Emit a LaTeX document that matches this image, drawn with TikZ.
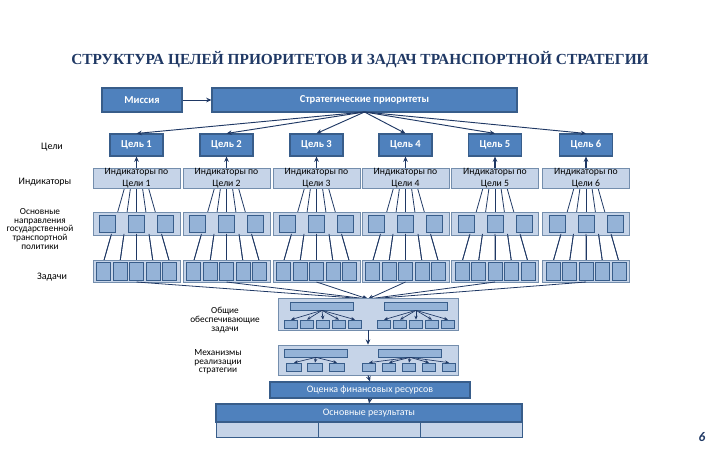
\documentclass[tikz,border=0pt]{standalone}
\usepackage{fontspec}
\setmainfont{Carlito}
\newfontfamily\titlefont{Liberation Serif}
\usetikzlibrary{arrows.meta,calc}
\definecolor{dk}{HTML}{4F81BD}
\definecolor{dkb}{HTML}{385D8A}
\definecolor{lt}{HTML}{C6D4E8}
\definecolor{sq}{HTML}{95B3D7}
\definecolor{ln}{HTML}{1F3864}
\tikzset{
 darkbox/.style={draw=dkb,fill=dk,line width=0.8pt,text=white,font=\fontsize{8}{9}\selectfont\bfseries,inner sep=0},
 lightbox/.style={draw=dkb!70,fill=lt,line width=0.5pt,inner sep=0},
 sqbox/.style={draw=dkb,fill=sq,line width=0.5pt,inner sep=0},
 lbl/.style={font=\fontsize{7}{6.5}\selectfont,align=center,inner sep=0},
 conn/.style={draw=ln,line width=0.7pt},
 arr/.style={conn,-{Stealth[length=4pt,width=3.5pt]}}
}
\begin{document}
\begin{tikzpicture}[x=0.0265cm,y=-0.0265cm]
\useasboundingbox (0,0) rectangle (720,450);
\node[font=\titlefont\fontsize{11.6}{14}\selectfont\bfseries,text=ln] (title) at (360,60) {СТРУКТУРА ЦЕЛЕЙ ПРИОРИТЕТОВ И ЗАДАЧ ТРАНСПОРТНОЙ СТРАТЕГИИ};
\node[darkbox,minimum width=80*0.0265cm,minimum height=24*0.0265cm] (mis) at (142,100) {Миссия};
\node[darkbox,minimum width=305*0.0265cm,minimum height=24*0.0265cm] (str) at (364.5,100) {Стратегические приоритеты};
\draw[arr] (mis) -- (str);
\coordinate (sb) at (364.5,112);
% left labels
\node[lbl,font=\fontsize{7.5}{8}\selectfont] (l1) at (52,147) {Цели};
\node[lbl,font=\fontsize{7.5}{8}\selectfont] (l2) at (45,182) {Индикаторы};
\node[lbl] (l3) at (40,229) {Основные\\направления\\государственной\\транспортной\\политики};
\node[lbl,font=\fontsize{7.5}{8}\selectfont] (l4) at (52,277) {Задачи};
\coordinate (ob) at (368,299);
\foreach \i/\cx in {1/136.5,2/226.5,3/316.5,4/405.5,5/495,6/586}{
  \foreach \a/\b in {-12/-33,-6/-16.5,0/0,6/16.5,12/33}{
    \draw[conn,line width=0.6pt] (\cx+\a,188) -- (\cx+\b,262);}
  \node[darkbox,minimum width=53*0.0265cm,minimum height=22*0.0265cm] (g\i) at (\cx,145) {Цель \i};
  \draw[arr] (sb) -- (g\i.north);
  \node[lightbox,minimum width=87*0.0265cm,minimum height=20*0.0265cm,font=\fontsize{7.3}{9.5}\selectfont,align=center] (ind\i) at (\cx,178) {Индикаторы по\\Цели \i};
  \draw[arr,line width=1.5pt] (ind\i.north) -- (g\i.south);
  \node[lightbox,minimum width=87*0.0265cm,minimum height=23*0.0265cm] (dir\i) at (\cx,223.5) {};
  \foreach \o in {-29,0,29}{\node[sqbox,minimum width=16*0.0265cm,minimum height=17*0.0265cm] at (\cx+\o,223.5) {};}
  \foreach \a/\b in {-12/-33,-6/-16.5,0/0,6/16.5,12/33}{
    \draw[conn,line width=0.6pt] ($(\cx+\a,188)!0.62!(\cx+\b,262)$) -- (\cx+\b,262);}
  \node[lightbox,minimum width=87*0.0265cm,minimum height=22*0.0265cm] (task\i) at (\cx,271) {};
  \foreach \o in {-33,-16.5,0,16.5,33}{\node[sqbox,minimum width=14*0.0265cm,minimum height=18*0.0265cm] at (\cx+\o,271) {};}
  \draw[arr,line width=0.6pt] (\cx,282) -- (ob);
}
% Общие
\node[lightbox,minimum width=180*0.0265cm,minimum height=32*0.0265cm] (obs) at (368,314) {};
\node[sqbox,minimum width=63*0.0265cm,minimum height=8*0.0265cm] (ob1) at (322,306) {};
\node[sqbox,minimum width=63*0.0265cm,minimum height=8*0.0265cm] (ob2) at (416,306) {};
\foreach \k/\x in {1/291,2/307,3/323,4/339,5/355}{\node[sqbox,minimum width=13*0.0265cm,minimum height=8*0.0265cm] (oa\k) at (\x,324) {}; \draw[arr,line width=0.5pt,-{Stealth[length=3pt,width=2.5pt]}] (ob1.south) -- (oa\k.north);}
\foreach \k/\x in {1/384,2/400,3/416,4/432,5/448}{\node[sqbox,minimum width=13*0.0265cm,minimum height=8*0.0265cm] (oc\k) at (\x,324) {}; \draw[arr,line width=0.5pt,-{Stealth[length=3pt,width=2.5pt]}] (ob2.south) -- (oc\k.north);}
\node[lbl] (l5) at (225,320) {Общие\\обеспечивающие\\задачи};
% Механизмы
\node[lightbox,minimum width=180*0.0265cm,minimum height=30*0.0265cm] (mech) at (368,360) {};
\draw[arr] (obs.south) -- (mech.north);
\node[sqbox,minimum width=63*0.0265cm,minimum height=8*0.0265cm] (mb1) at (316,353) {};
\node[sqbox,minimum width=63*0.0265cm,minimum height=8*0.0265cm] (mb2) at (410,353) {};
\foreach \k/\x in {1/294,2/315,3/337}{\node[sqbox,minimum width=15*0.0265cm,minimum height=8*0.0265cm] (ma\k) at (\x,367) {}; \draw[arr,line width=0.5pt,-{Stealth[length=3pt,width=2.5pt]}] (mb1.south) -- (ma\k.north);}
\foreach \k/\x in {1/369,2/389,3/409,4/429,5/449}{\node[sqbox,minimum width=13*0.0265cm,minimum height=8*0.0265cm] (mc\k) at (\x,367) {}; \draw[arr,line width=0.5pt,-{Stealth[length=3pt,width=2.5pt]}] (mb2.south) -- (mc\k.north);}
\node[lbl] (l6) at (218,362) {Механизмы\\реализации\\стратегии};
% Оценка
\node[darkbox,font=\fontsize{7.5}{8}\selectfont,minimum width=200*0.0265cm,minimum height=16*0.0265cm] (oc) at (370,390) {Оценка финансовых ресурсов};
\draw[arr] (mech.south) -- (oc.north);
\node[lightbox,draw=dkb,minimum width=306*0.0265cm,minimum height=33*0.0265cm] (res) at (369,420.5) {};
\node[darkbox,font=\fontsize{7.5}{8}\selectfont,minimum width=306*0.0265cm,minimum height=18*0.0265cm] (rest) at (369,413) {Основные результаты};
\draw[dkb,line width=0.6pt] (318,422) -- (318,437) (420,422) -- (420,437);
\draw[arr] (oc.south) -- (rest.north);
\node[font=\fontsize{10}{12}\selectfont\bfseries\itshape,text=ln] (pg) at (702,437) {6};
\end{tikzpicture}
\end{document}
